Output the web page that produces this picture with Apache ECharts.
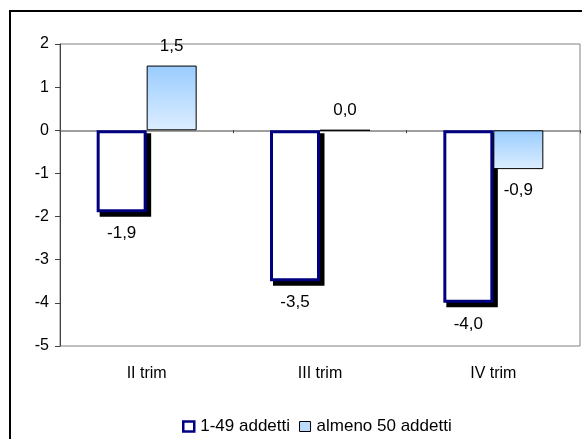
<!DOCTYPE html>
<html>
<head>
<meta charset="utf-8">
<script src="https://cdn.jsdelivr.net/npm/echarts@6/dist/echarts.min.js"></script>
<style>html,body{margin:0;padding:0;background:#fff}#c{width:582px;height:439px}</style>
</head>
<body>
<div id="c"></div>
<script>
const categories = ['II trim', 'III trim', 'IV trim'];
const seriesNames = ['1-49 addetti', 'almeno 50 addetti'];
const small = [-1.9, -3.5, -4.0];
const large = [1.5, 0.0, -0.9];

const FONT = 'Liberation Sans, Arial, sans-serif';
const BAR_W = 50;
const fmt = v => v.toFixed(1).replace('.', ',');
function withLabels(arr) {
  return arr.map(v => ({
    value: v,
    label: v < 0 ? { position: 'bottom', distance: 13 } : { position: 'top', distance: 11 }
  }));
}

const chart = echarts.init(document.getElementById('c'), null, { renderer: 'canvas' });
chart.setOption({
  animation: false,
  backgroundColor: '#fff',
  textStyle: { fontFamily: FONT },
  grid: {
    left: 60, right: 2, top: 44, bottom: 93,
    show: true, borderColor: '#808080', borderWidth: 1, backgroundColor: 'transparent'
  },
  graphic: [{
    type: 'rect', silent: true, z: 100,
    shape: { x: 10, y: 11, width: 620, height: 500 },
    style: { fill: 'none', stroke: '#000', lineWidth: 2 }
  }],
  legend: {
    left: 182, top: 418, padding: 0,
    itemWidth: 11, itemHeight: 10, itemGap: 9,
    icon: 'rect',
    textStyle: { fontFamily: FONT, fontSize: 17, color: '#000', padding: [0, 0, 0, 1] },
    data: [
      { name: seriesNames[0], itemStyle: { color: '#fff', borderColor: '#000080', borderWidth: 2.5 } },
      { name: seriesNames[1], itemStyle: { color: '#BCDDFF', borderColor: '#000', borderWidth: 1 } }
    ]
  },
  xAxis: [{
    type: 'category', data: categories,
    axisLine: { onZero: true, lineStyle: { color: '#808080', width: 1.5 } },
    axisTick: { show: true, length: 3, lineStyle: { color: '#404040' } },
    axisLabel: { show: false },
    splitLine: { show: false }
  }, {
    type: 'category', data: categories, position: 'bottom',
    axisLine: { show: false, onZero: false },
    axisTick: { show: false },
    axisLabel: { show: true, margin: 20, fontFamily: FONT, fontSize: 16, color: '#000' },
    splitLine: { show: false }
  }],
  yAxis: {
    type: 'value', min: -5, max: 2, interval: 1,
    axisLine: { show: true, onZero: false, lineStyle: { color: '#404040', width: 1 } },
    axisTick: { show: true, length: 5, lineStyle: { color: '#404040' } },
    axisLabel: { fontFamily: FONT, fontSize: 16, color: '#000', margin: 11, formatter: v => String(v) },
    splitLine: { show: false }
  },
  series: [{
    name: seriesNames[0] + ' ombra', type: 'custom', xAxisIndex: 0, z: 1,
    silent: true, legendHoverLink: false,
    data: small.map((v, i) => [i, v]),
    encode: { x: 0, y: 1 },
    renderItem: function (params, api) {
      const i = api.value(0), v = api.value(1);
      const p0 = api.coord([i, 0]);
      const p1 = api.coord([i, v]);
      const left = p0[0] - BAR_W;
      const top = Math.min(p0[1], p1[1]);
      const h = Math.abs(p1[1] - p0[1]);
      return {
        type: 'rect',
        shape: { x: left + 3, y: top + 3, width: BAR_W + 1.5, height: h + 1.5 },
        style: { fill: '#000' }
      };
    }
  }, {
    name: seriesNames[0], type: 'bar', xAxisIndex: 0, z: 2,
    data: withLabels(small),
    barWidth: BAR_W, barGap: '0%',
    itemStyle: { color: '#fff', borderColor: '#000080', borderWidth: 3 },
    label: { show: true, fontFamily: FONT, fontSize: 17, color: '#000', formatter: p => fmt(p.value) }
  }, {
    name: seriesNames[1], type: 'bar', xAxisIndex: 0, z: 2,
    data: withLabels(large),
    barWidth: BAR_W, barGap: '0%',
    itemStyle: {
      color: new echarts.graphic.LinearGradient(0, 0, 0, 1, [
        { offset: 0, color: '#99CCFF' }, { offset: 1, color: '#DDEEFF' }
      ]),
      borderColor: '#000', borderWidth: 1
    },
    label: { show: true, fontFamily: FONT, fontSize: 17, color: '#000', formatter: p => fmt(p.value) }
  }]
});
</script>
</body>
</html>
